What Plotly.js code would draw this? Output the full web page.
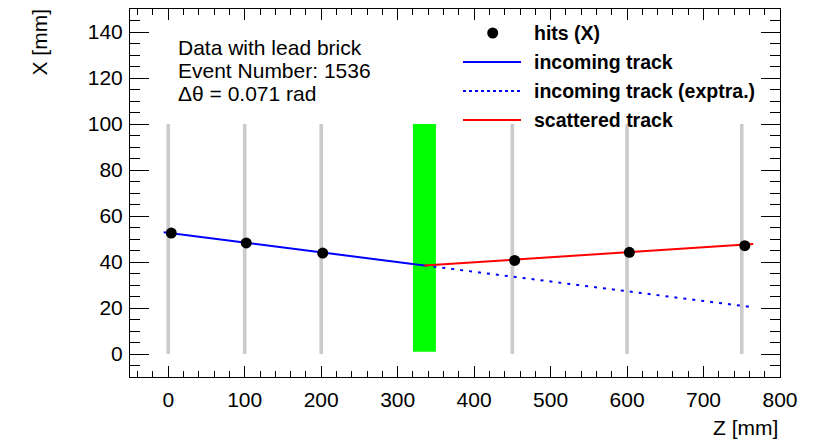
<!DOCTYPE html>
<html>
<head>
<meta charset="utf-8">
<script src="https://cdn.plot.ly/plotly-3.0.1.min.js"></script>
<style>
  html, body { margin: 0; padding: 0; background: #ffffff; }
  #plot { width: 823px; height: 445px; }
</style>
</head>
<body>
<div id="plot"></div>
<script>
// Detector planes (Z positions, mm) and their X extent
const planeZ = [0, 100, 200, 450, 600, 750];
const planeX = [0, 100];

// Lead brick extent
const leadZ = [320, 350];
const leadX = [1, 100];

// Measured hits (X view)
const hitZ = [4, 102, 202, 453, 603, 754];
const hitX = [52.6, 48.3, 43.9, 40.7, 44.2, 47.1];

// Fitted tracks (end points)
const inZ = [-6, 335];
const inX = [52.9, 38.5];
const extraZ = [335, 765];
const extraX = [38.5, 20.3];
const scatZ = [335, 765];
const scatX = [38.5, 47.8];

// Legend labels
const legendLabels = ["hits (X)", "incoming track", "incoming track (exptra.)", "scattered track"];
const infoLines = ["Data with lead brick", "Event Number: 1536", "\u0394\u03b8 = 0.071 rad"];

const FONT = "Liberation Sans, Arial, Helvetica, sans-serif";

// plot frame in pixels
const W = 823, H = 445;
const L = 130, R = 780, T = 9, B = 377;
const fx = px => (px - L) / (R - L);
const fy = py => (B - py) / (B - T);

// detector planes as one broken line
const pz = [], px = [];
planeZ.forEach(z => { pz.push(z, z, null); px.push(planeX[0], planeX[1], null); });

const traces = [
  { x: pz, y: px, mode: "lines", line: { color: "#cbcbcb", width: 3.6 }, hoverinfo: "skip", showlegend: false },
  { x: [leadZ[0], leadZ[1], leadZ[1], leadZ[0], leadZ[0]],
    y: [leadX[0], leadX[0], leadX[1], leadX[1], leadX[0]],
    mode: "lines", fill: "toself", fillcolor: "#00ff00", line: { width: 0, color: "#00ff00" }, showlegend: false },
  { x: inZ, y: inX, mode: "lines", line: { color: "#0000ff", width: 2 }, showlegend: false },
  { x: extraZ, y: extraX, mode: "lines", line: { color: "#0000ff", width: 2, dash: "3px,6px" }, showlegend: false },
  { x: scatZ, y: scatX, mode: "lines", line: { color: "#ff0000", width: 2 }, showlegend: false },
  { x: hitZ, y: hitX, mode: "markers", marker: { color: "#000000", size: 11 }, showlegend: false }
];

// legend drawn as a block of shapes + text in the upper right
const legRows = [33, 62, 91, 120];
const shapes = [
  { type: "circle", xref: "paper", yref: "paper", xsizemode: "pixel", ysizemode: "pixel",
    xanchor: fx(492.7), yanchor: fy(legRows[0]), x0: -5.5, x1: 5.5, y0: -5.5, y1: 5.5,
    fillcolor: "#000000", line: { width: 0 } },
  { type: "line", xref: "paper", yref: "paper", x0: fx(463), x1: fx(521), y0: fy(legRows[1]), y1: fy(legRows[1]),
    line: { color: "#0000ff", width: 2 } },
  { type: "line", xref: "paper", yref: "paper", x0: fx(463), x1: fx(521), y0: fy(legRows[2]), y1: fy(legRows[2]),
    line: { color: "#0000ff", width: 2, dash: "3px,3px" } },
  { type: "line", xref: "paper", yref: "paper", x0: fx(463), x1: fx(521), y0: fy(legRows[3]), y1: fy(legRows[3]),
    line: { color: "#ff0000", width: 2 } }
];

const annotations = [];
legendLabels.forEach((t, i) => annotations.push({
  xref: "paper", yref: "paper", x: fx(532), y: fy(legRows[i]), xanchor: "left", yanchor: "middle",
  text: "<b>" + t + "</b>", showarrow: false, font: { family: FONT, size: 19.5, color: "#000000" }
}));
const infoRows = [47, 70, 93];
infoLines.forEach((t, i) => annotations.push({
  xref: "paper", yref: "paper", x: fx(176), y: fy(infoRows[i]), xanchor: "left", yanchor: "middle",
  text: t, showarrow: false, font: { family: FONT, size: 21, color: "#000000" }
}));
// axis titles, ROOT style: aligned to the far end of each axis
annotations.push({
  xref: "paper", yref: "paper", x: 1, y: fy(427), xanchor: "right", yanchor: "middle",
  text: "Z [mm]", showarrow: false, font: { family: FONT, size: 21, color: "#000000" }
});
annotations.push({
  xref: "paper", yref: "paper", x: fx(39), y: fy(6), xanchor: "center", yanchor: "top",
  text: "X [mm]", textangle: -90, showarrow: false, font: { family: FONT, size: 21, color: "#000000" }
});

const layout = {
  width: W, height: H,
  margin: { l: L, r: W - R, t: T, b: H - B, pad: 0 },
  paper_bgcolor: "#ffffff", plot_bgcolor: "#ffffff",
  font: { family: FONT, size: 21, color: "#000000" },
  showlegend: false,
  xaxis: {
    range: [-50, 800], tick0: 0, dtick: 100, showgrid: false, zeroline: false,
    showline: true, linecolor: "#000000", linewidth: 1, mirror: "allticks",
    ticks: "inside", ticklen: 11, tickcolor: "#000000", tickwidth: 1,
    minor: { dtick: 20, ticks: "inside", ticklen: 6, tickcolor: "#000000", tickwidth: 1, showgrid: false },
    tickfont: { family: FONT, size: 21, color: "#000000" }, ticklabelstandoff: 4
  },
  yaxis: {
    range: [-10, 150], tick0: 0, dtick: 20, showgrid: false, zeroline: false,
    showline: true, linecolor: "#000000", linewidth: 1, mirror: "allticks",
    ticks: "inside", ticklen: 19, tickcolor: "#000000", tickwidth: 1,
    minor: { dtick: 5, ticks: "inside", ticklen: 10, tickcolor: "#000000", tickwidth: 1, showgrid: false },
    tickfont: { family: FONT, size: 21, color: "#000000" }, ticklabelstandoff: 2
  },
  shapes: shapes,
  annotations: annotations
};

Plotly.newPlot("plot", traces, layout, { staticPlot: true, displayModeBar: false });
</script>
</body>
</html>
